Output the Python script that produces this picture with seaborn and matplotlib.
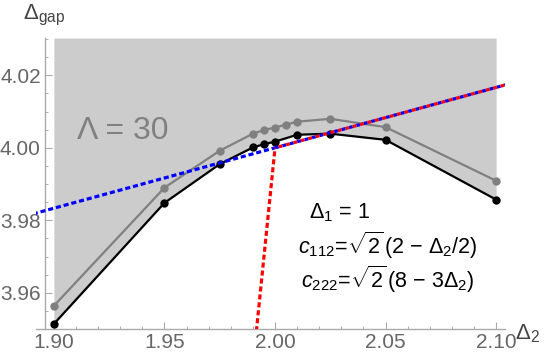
import numpy as np
import pandas as pd
import matplotlib
matplotlib.use("Agg")
import matplotlib.pyplot as plt
import seaborn as sns

# ---- data ----
gray_x = [1.90, 1.95, 1.975, 1.99, 1.995, 2.00, 2.005, 2.01, 2.025, 2.05, 2.10]
gray_y = [3.9564, 3.9890, 3.9992, 4.0039, 4.0049, 4.0056, 4.0064, 4.0072, 4.0080, 4.0057, 3.9909]
black_x = [1.90, 1.95, 1.975, 1.99, 1.995, 2.00, 2.01, 2.025, 2.05, 2.10]
black_y = [3.9514, 3.9848, 3.9955, 4.0001, 4.0010, 4.0017, 4.0036, 4.0039, 4.0022, 3.9857]
blue_left_x = [1.88, 2.00]
blue_left_y = [3.98, 4.00]
blue_right_x = [2.00, 2.11]
blue_right_y = [4.00, 4.018333]
red_left_x = [1.9900, 2.00]
red_left_y = [3.94, 4.00]
red_right_x = [2.00, 2.11]
red_right_y = [4.00, 4.018333]
x_ticks = [1.90, 1.95, 2.00, 2.05, 2.10]
y_ticks = [3.96, 3.98, 4.00, 4.02]
x_lim = (1.8919, 2.104)
y_lim = (3.950, 4.0303)

sns.set_theme(style="white")
plt.rcParams['font.family'] = ['Liberation Sans', 'DejaVu Sans']
plt.rcParams['mathtext.fontset'] = 'custom'
plt.rcParams['mathtext.rm'] = 'Liberation Sans'
plt.rcParams['mathtext.it'] = 'Liberation Sans:italic'
plt.rcParams['mathtext.bf'] = 'Liberation Sans:bold'

W, H = 545, 362
fig = plt.figure(figsize=(W / 100, H / 100), dpi=100)
ax = fig.add_axes([36 / W, 1 - 329 / H, (505 - 36) / W, (329 - 38) / H])
ax.set_facecolor('none')

ax.set_xlim(*x_lim)
ax.set_ylim(*y_lim)

# shaded region above the black curve
ax.fill_between(black_x, black_y, y_lim[1], color='#cccccc', lw=0, zorder=0)

df_g = pd.DataFrame({'x': gray_x, 'y': gray_y})
df_b = pd.DataFrame({'x': black_x, 'y': black_y})
sns.lineplot(data=df_g, x='x', y='y', ax=ax, color='#808080', lw=1.6,
             marker='o', markersize=6, markeredgewidth=0, zorder=3)
sns.lineplot(data=df_b, x='x', y='y', ax=ax, color='black', lw=1.6,
             marker='o', markersize=6, markeredgewidth=0, zorder=4)

lw = 2.3
dash = (0, (1.6, 0.9))
ax.plot(blue_left_x, blue_left_y, color='#0000ff', lw=lw, linestyle=dash, zorder=5,
        dash_capstyle='butt')
ax.plot(blue_right_x, blue_right_y, color='#0000ff', lw=lw, linestyle=(0, (1.2, 1.2)), zorder=5,
        dash_capstyle='butt')
ax.plot(red_right_x, red_right_y, color='#ff0000', lw=lw, linestyle=(1.2, (1.2, 1.2)), zorder=6,
        dash_capstyle='butt')
ax.plot(red_left_x, red_left_y, color='#ff0000', lw=lw, linestyle=dash, zorder=6,
        dash_capstyle='butt')

# axes styling
for s in ['top', 'right']:
    ax.spines[s].set_visible(False)
ax.spines['left'].set_position(('data', 1.8959))
for s in ['left', 'bottom']:
    ax.spines[s].set_color('#aaaaaa')
    ax.spines[s].set_linewidth(1.0)

ax.set_xticks(x_ticks)
ax.set_yticks(y_ticks)
ax.set_xticklabels([f"{v:.2f}" for v in x_ticks])
ax.set_yticklabels([f"{v:.2f}" for v in y_ticks])
ax.xaxis.set_minor_locator(matplotlib.ticker.MultipleLocator(0.01))
ax.yaxis.set_minor_locator(matplotlib.ticker.MultipleLocator(0.005))
ax.tick_params(which='major', direction='in', length=5, width=0.8, color='#aaaaaa',
               labelsize=15, labelcolor='#666666', pad=3)
ax.tick_params(which='minor', direction='in', length=2.5, width=0.7, color='#aaaaaa')
ax.tick_params(axis='x', which='both', bottom=True)
ax.tick_params(axis='y', which='both', left=True)
ax.set_xlabel('')
ax.set_ylabel('')

def ft(px, py, s, **kw):
    fig.text(px / W, 1 - py / H, s, va='baseline', ha='left', **kw)

ft(23, 19, r'$\Delta_{\mathrm{gap}}$', fontsize=16, color='#444444')
ft(515, 339, r'$\Delta_{2}$', fontsize=16, color='#444444')
ft(77, 139, 'Λ = 30', fontsize=23, color='#808080')
ft(309, 218, r'Δ$_1$ = 1', fontsize=15.5, color='black')
ft(298, 254, r'$c_{112}$=$\sqrt{2}\,$(2 − Δ$_2$/2)', fontsize=15.5, color='black')
ft(301, 288, r'$c_{222}$=$\sqrt{2}\,$(8 − 3Δ$_2$)', fontsize=15.5, color='black')

fig.savefig('out.png', dpi=100)
